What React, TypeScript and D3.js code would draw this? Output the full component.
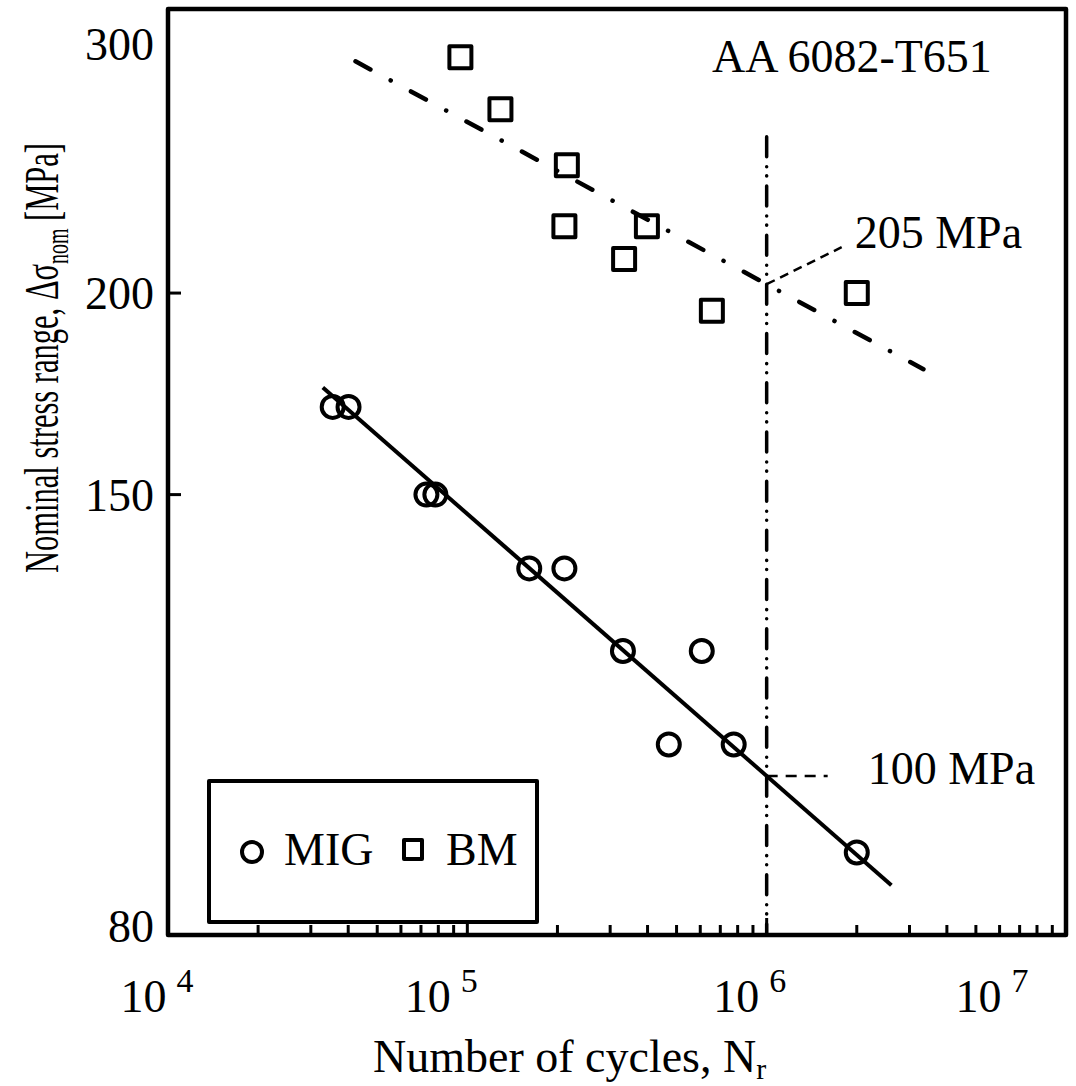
import * as d3 from "d3";

// fatigue data (cycles to failure, nominal stress range MPa)
const migCycles = [3.55e4, 4.01e4, 7.3e4, 7.82e4, 1.61e5, 2.11e5, 3.31e5, 6.07e5, 4.71e5, 7.76e5, 2.0e6];
const migStress = [170, 170, 150, 150, 135, 135, 120, 120, 105, 105, 90];
const bmCycles = [9.48e4, 1.29e5, 2.15e5, 2.11e5, 3.98e5, 3.34e5, 6.56e5, 2.0e6];
const bmStress = [280, 260, 240, 220, 220, 210, 195, 200];

// fitted S-N lines (end points)
const migFitCycles = [3.29e4, 2.61e6];
const migFitStress = [174.8, 85.9];
const bmFitCycles = [4.23e4, 3.34e6];
const bmFitStress = [278.4, 179.4];

const kneeCycles = 1e6;
const kneeTopStress = 250;
const kneeLabels = ["205 MPa", "100 MPa"];

const xTicks = [1e4, 1e5, 1e6, 1e7];
const xExponents = ["4", "5", "6", "7"];
const yTicks = [80, 150, 200, 300];

const W = 1076;
const H = 1086;
const L = 168, R = 1066, T = 9, B = 935;
const FONT = "'Liberation Serif', 'Times New Roman', serif";
// hand nudges of the decade labels as in the original figure
const xLabelNudge = [-11, -26, -17, -74];

const x = d3.scaleLog().domain([1e4, 1e7]).range([L, R]);
const y = d3.scaleLog().domain([80, 300]).range([B, T]);

const fitAt = (cs: number[], ss: number[], n: number) => {
  const t = (Math.log(n) - Math.log(cs[0])) / (Math.log(cs[1]) - Math.log(cs[0]));
  return Math.exp(Math.log(ss[0]) + t * (Math.log(ss[1]) - Math.log(ss[0])));
};

const line = d3
  .line<[number, number]>()
  .x((d) => x(d[0]))
  .y((d) => y(d[1]));

const App = () => {
  document.body.style.margin = "0";
  const minor = x.ticks().filter((v) => !xTicks.includes(v));
  const kx = x(kneeCycles);
  const bmKneeY = y(fitAt(bmFitCycles, bmFitStress, kneeCycles));
  const migKneeY = y(fitAt(migFitCycles, migFitStress, kneeCycles));

  return (
    <svg width={W} height={H} style={{ display: "block", background: "#fff" }} fontFamily={FONT}>
      {/* minor + major x ticks (inward) */}
      {minor.map((v, i) => (
        <line key={"m" + i} x1={x(v)} x2={x(v)} y1={B} y2={B - 10} stroke="#000" strokeWidth={3} />
      ))}
      {xTicks.map((v, i) => (
        <line key={"M" + i} x1={x(v)} x2={x(v)} y1={B} y2={B - 17} stroke="#000" strokeWidth={3} />
      ))}
      {yTicks
        .filter((v) => v !== 80 && v !== 300)
        .map((v, i) => (
          <line key={"y" + i} x1={L} x2={L + 13} y1={y(v)} y2={y(v)} stroke="#000" strokeWidth={3} />
        ))}

      {/* tick labels */}
      {yTicks.map((v, i) => (
        <text
          key={"yl" + i}
          x={L - 14}
          y={Math.min(Math.max(y(v) + 16, T + 51), B + 7)}
          textAnchor="end"
          fontSize={46}
        >
          {v}
        </text>
      ))}
      {xTicks.map((v, i) => (
        <text key={"xl" + i} x={x(v) + xLabelNudge[i]} y={1012} textAnchor="middle" fontSize={46}>
          10
          <tspan dx={10} dy={-20} fontSize={34}>
            {xExponents[i]}
          </tspan>
        </text>
      ))}

      {/* axis titles */}
      <text x={373} y={1072} fontSize={46}>
        Number of cycles, N
        <tspan dy={7} fontSize={30}>
          r
        </tspan>
      </text>
      <text
        transform={`translate(58, ${573}) rotate(-90)`}
        fontSize={49}
        textLength={430}
        lengthAdjust="spacingAndGlyphs"
      >
        Nominal stress range, Δσ
        <tspan dy={10} fontSize={32}>
          nom
        </tspan>
        <tspan dy={-10}> [MPa]</tspan>
      </text>

      {/* knee line at 10^6 */}
      <line
        x1={kx}
        x2={kx}
        y1={y(kneeTopStress)}
        y2={B}
        stroke="#000"
        strokeWidth={3.5}
        strokeLinecap="round"
        strokeDasharray="20 10 0.1 9 0.1 10"
      />

      {/* fit lines */}
      <path
        d={line(migFitCycles.map((c, i) => [c, migFitStress[i]]) as [number, number][]) || ""}
        fill="none"
        stroke="#000"
        strokeWidth={4}
      />
      <path
        d={line(bmFitCycles.map((c, i) => [c, bmFitStress[i]]) as [number, number][]) || ""}
        fill="none"
        stroke="#000"
        strokeWidth={4.5}
        strokeLinecap="round"
        strokeDasharray="17 23 0.1 23"
      />

      {/* knee annotations */}
      <line x1={kx} y1={bmKneeY} x2={kx + 75} y2={bmKneeY - 37} stroke="#000" strokeWidth={2.5} strokeDasharray="9 6" />
      <text x={kx + 88} y={248} fontSize={46}>
        {kneeLabels[0]}
      </text>
      <line x1={kx} y1={migKneeY} x2={kx + 61} y2={migKneeY} stroke="#000" strokeWidth={2.5} strokeDasharray="11 8" />
      <text x={kx + 101} y={migKneeY + 8} fontSize={46}>
        {kneeLabels[1]}
      </text>

      {/* markers */}
      {migCycles.map((c, i) => (
        <circle key={"c" + i} cx={x(c)} cy={y(migStress[i])} r={11} fill="none" stroke="#000" strokeWidth={4} />
      ))}
      {bmCycles.map((c, i) => (
        <rect
          key={"s" + i}
          x={x(c) - 11}
          y={y(bmStress[i]) - 11}
          width={22}
          height={22}
          fill="none"
          stroke="#000"
          strokeWidth={4}
          strokeLinejoin="round"
        />
      ))}

      <text x={712} y={72} fontSize={46}>
        AA 6082-T651
      </text>

      {/* legend */}
      <rect x={209} y={781} width={328} height={141} fill="#fff" stroke="#000" strokeWidth={4} strokeLinejoin="round" />
      <circle cx={252} cy={852} r={10} fill="none" stroke="#000" strokeWidth={4} />
      <text x={284} y={865} fontSize={46}>
        MIG
      </text>
      <rect x={404} y={840} width={18} height={19} fill="none" stroke="#000" strokeWidth={4} strokeLinejoin="round" />
      <text x={446} y={865} fontSize={46}>
        BM
      </text>

      {/* frame */}
      <rect x={L} y={T} width={R - L} height={B - T} fill="none" stroke="#000" strokeWidth={4.5} strokeLinejoin="round" />
    </svg>
  );
};

export default App;
